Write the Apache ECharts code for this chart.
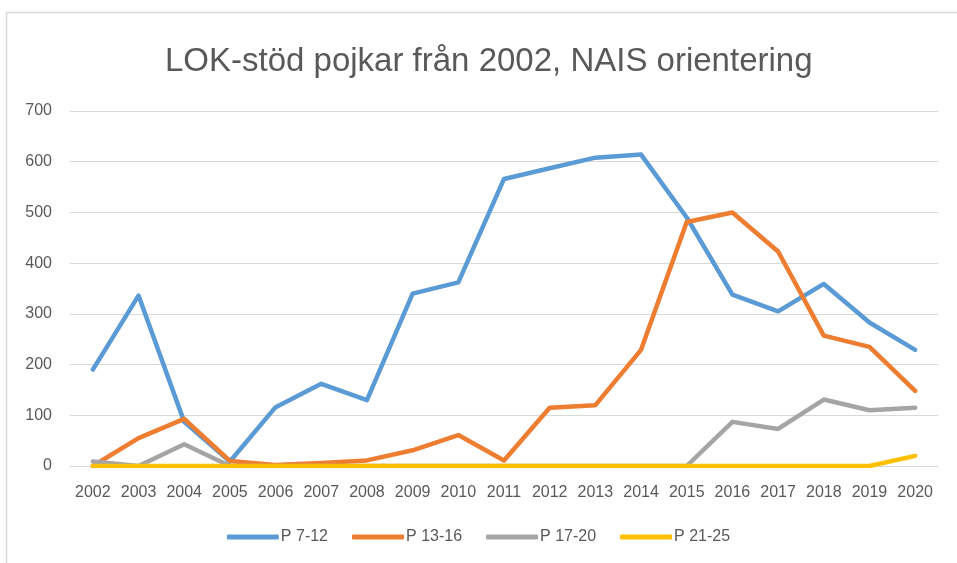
<!DOCTYPE html>
<html>
<head>
<meta charset="utf-8">
<script src="https://cdn.jsdelivr.net/npm/echarts@6/dist/echarts.min.js"></script>
<style>
  html, body { margin: 0; padding: 0; background: #fff; }
  #chart { width: 957px; height: 563px; }
</style>
</head>
<body>
<div id="chart"></div>
<script>
// Years on the x axis
const years = ['2002','2003','2004','2005','2006','2007','2008','2009','2010','2011',
               '2012','2013','2014','2015','2016','2017','2018','2019','2020'];

// LOK-stöd per age group
const p7_12  = [190, 336, 87, 9, 116, 162, 130, 340, 362, 566, 587, 608, 614, 490, 338, 305, 359, 283, 229];
const p13_16 = [0, 55, 93, 10, 2, 6, 11, 31, 61, 11, 115, 120, 229, 481, 500, 423, 257, 235, 148];
const p17_20 = [9, 0, 43, 0, 0, 0, 0, 0, 0, 0, 0, 0, 0, 0, 87, 73, 131, 110, 115];
const p21_25 = [0, 0, 0, 0, 0, 0, 0, 0, 0, 0, 0, 0, 0, 0, 0, 0, 0, 0, 20];

const yTicks = { min: 0, max: 700, interval: 100 };

const FONT = 'Liberation Sans, sans-serif';
const TEXT = '#595959';

function lineSeries(name, data, color) {
  return {
    name, type: 'line', data,
    symbol: 'none',
    lineStyle: { width: 4.5, color, cap: 'round', join: 'round' },
    itemStyle: { color },
    animation: false
  };
}

const chart = echarts.init(document.getElementById('chart'), null, { renderer: 'canvas' });
chart.setOption({
  backgroundColor: '#fff',
  animation: false,
  title: {
    text: 'LOK-stöd pojkar från 2002, NAIS orientering',
    left: 160, top: 40,
    textStyle: { fontFamily: FONT, fontSize: 33, fontWeight: 'normal', color: TEXT }
  },
  graphic: [{
    type: 'rect', silent: true,
    shape: { x: 6.5, y: 12.5, width: 1000, height: 600 },
    style: { fill: 'none', stroke: '#d9d9d9', lineWidth: 1.5 }
  }],
  grid: { left: 70, right: 19, top: 111, bottom: 97, containLabel: false },
  legend: {
    bottom: 13, left: 'center',
    itemWidth: 52, itemHeight: 5, itemGap: 24,
    icon: 'roundRect',
    textStyle: { fontFamily: FONT, fontSize: 16, color: TEXT, padding: [0, 0, 0, -3] },
    data: ['P 7-12', 'P 13-16', 'P 17-20', 'P 21-25']
  },
  xAxis: {
    type: 'category', data: years, boundaryGap: true,
    axisLine: { show: true, lineStyle: { color: '#d9d9d9', width: 1 } },
    axisTick: { show: false },
    axisLabel: { fontFamily: FONT, fontSize: 16, color: TEXT, margin: 19, interval: 0 }
  },
  yAxis: {
    type: 'value', min: yTicks.min, max: yTicks.max, interval: yTicks.interval,
    axisLine: { show: false }, axisTick: { show: false },
    splitLine: { lineStyle: { color: '#d9d9d9', width: 1 } },
    axisLabel: { fontFamily: FONT, fontSize: 16, color: TEXT, margin: 18 }
  },
  series: [
    lineSeries('P 7-12', p7_12, '#5b9bd5'),
    lineSeries('P 13-16', p13_16, '#ed7d31'),
    lineSeries('P 17-20', p17_20, '#a5a5a5'),
    lineSeries('P 21-25', p21_25, '#ffc000')
  ]
});
</script>
</body>
</html>
